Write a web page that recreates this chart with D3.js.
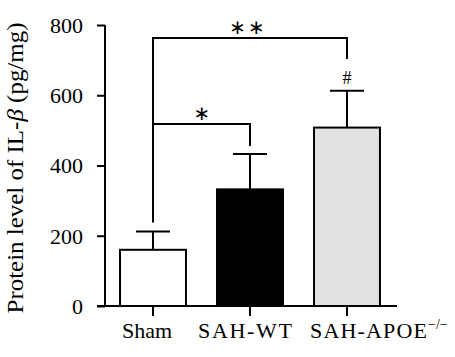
<!DOCTYPE html>
<html><head><meta charset="utf-8">
<script src="https://cdn.jsdelivr.net/npm/d3@7"></script>
<style>body{margin:0;background:#fff}svg{display:block}</style>
</head><body>
<svg id="c" width="455" height="357"></svg>
<script>
const categories = ["Sham", "SAH-WT", "SAH-APOE"];
const means = [160, 332, 508];
const errors = [52, 101, 105];
const fills = ["#ffffff", "#000000", "#e1e1e3"];
const yTicks = [0, 200, 400, 600, 800];
const yLabel = "Protein level of IL-\u03B2 (pg/mg)";

const svg = d3.select("#c");
const font = "'Liberation Serif', 'Times New Roman', serif";
const x = d3.scaleBand().domain(categories).range([104.5, 395.5]).padding(0);
const y = d3.scaleLinear().domain([0, 800]).range([306, 25]);
const bw = x.bandwidth() * 0.68;
const cx = c => x(c) + x.bandwidth() / 2;

// error bars
const eb = svg.append("g").attr("stroke", "#000").attr("stroke-width", 2);
categories.forEach((c, i) => {
  eb.append("line").attr("x1", cx(c)).attr("x2", cx(c)).attr("y1", y(means[i])).attr("y2", y(means[i] + errors[i]));
  eb.append("line").attr("x1", cx(c) - 17).attr("x2", cx(c) + 17).attr("y1", y(means[i] + errors[i])).attr("y2", y(means[i] + errors[i]));
});

// bars
svg.append("g").selectAll("rect").data(categories).join("rect")
  .attr("x", c => cx(c) - bw / 2).attr("width", bw)
  .attr("y", (c, i) => y(means[i])).attr("height", (c, i) => y(0) - y(means[i]))
  .attr("fill", (c, i) => fills[i]).attr("stroke", "#000").attr("stroke-width", 2);

// y axis
const ya = svg.append("g").attr("transform", "translate(105,0)")
  .call(d3.axisLeft(y).tickValues(yTicks).tickSize(8).tickPadding(14).tickFormat(d3.format("d")));
ya.select(".domain").attr("stroke-width", 2).attr("d", `M0,${y(800)}V${y(0)}`);
ya.selectAll(".tick line").attr("stroke-width", 2);
ya.selectAll("text").attr("font-family", font).attr("font-size", 22).attr("fill", "#000").attr("dy", "0.34em");

// x axis
const xa = svg.append("g").attr("transform", "translate(0,306)")
  .call(d3.axisBottom(x).tickSize(10).tickPadding(9).tickFormat(() => ""));
xa.select(".domain").attr("stroke-width", 2).attr("d", "M97,0H397");
xa.selectAll(".tick line").attr("stroke-width", 2);
xa.selectAll(".tick text").remove();
const xl = svg.append("g").attr("font-family", font).attr("font-size", 22).attr("fill", "#000");
xl.append("text").attr("x", 122).attr("y", 338).text(categories[0]);
xl.append("text").attr("x", 198).attr("y", 338).attr("textLength", 94).attr("lengthAdjust", "spacing").text(categories[1]);
xl.append("text").attr("x", 310).attr("y", 338).attr("textLength", 117).attr("lengthAdjust", "spacing").text(categories[2]);
xl.append("text").attr("x", 428).attr("y", 329).attr("font-size", 14).text("\u2212/\u2212");

// y label
svg.append("text").attr("transform", "translate(23,168) rotate(-90)")
  .attr("text-anchor", "middle").attr("font-family", font).attr("font-size", 23).attr("fill", "#000")
  .attr("textLength", 291).attr("lengthAdjust", "spacingAndGlyphs")
  .html("Protein level of IL-<tspan font-style='italic'>\u03B2</tspan> (pg/mg)");

// significance brackets
const br = svg.append("g").attr("fill", "none").attr("stroke", "#000").attr("stroke-width", 2);
br.append("path").attr("d", `M${cx("Sham")},${y(means[0] + errors[0]) - 9}V38H${cx("SAH-APOE")}V59`);
br.append("path").attr("d", `M${cx("Sham")},124H${cx("SAH-WT")}V146`);
const st = svg.append("g").attr("font-family", "'DejaVu Sans', sans-serif").attr("fill", "#000").attr("text-anchor", "middle");
st.append("text").attr("x", 248).attr("y", 34).attr("font-size", 20).attr("letter-spacing", 2).text("\u2217\u2217");
st.append("text").attr("x", 202).attr("y", 120).attr("font-size", 20).text("\u2217");
svg.append("text").attr("x", cx("SAH-APOE")).attr("y", 84).attr("font-family", font).attr("font-size", 18).attr("text-anchor", "middle").text("#");
</script>
</body></html>
